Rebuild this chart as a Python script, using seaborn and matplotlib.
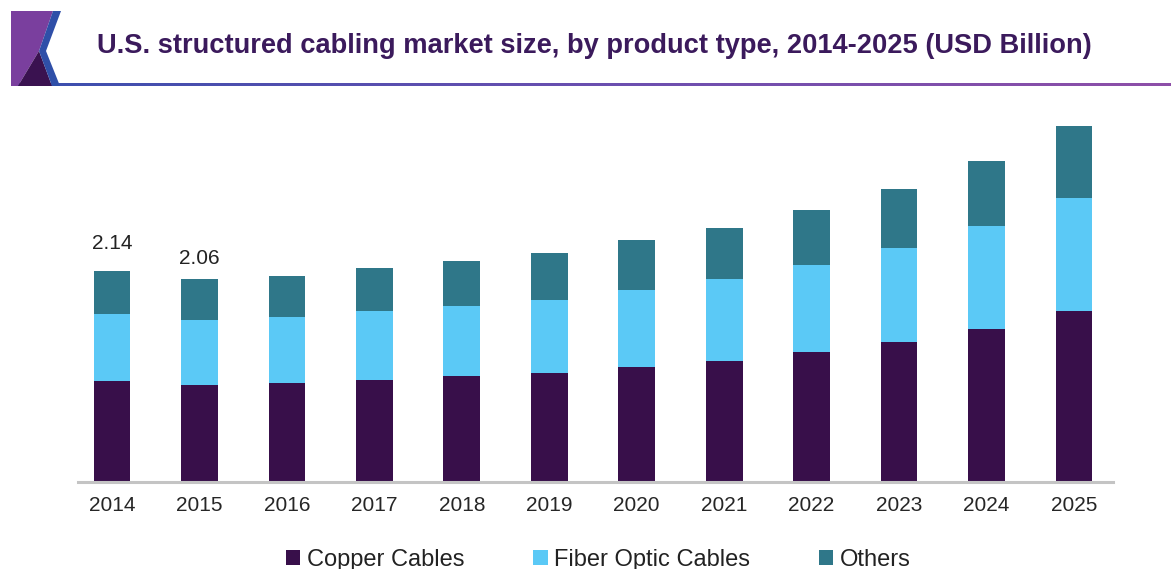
import numpy as np
import pandas as pd
import matplotlib
matplotlib.use("Agg")
import matplotlib.pyplot as plt
from matplotlib.patches import Polygon, Patch
import seaborn as sns

# ---------------- data ----------------
years = ["2014", "2015", "2016", "2017", "2018", "2019", "2020", "2021", "2022", "2023", "2024", "2025"]
copper = [1.02, 0.98, 1.00, 1.03, 1.08, 1.11, 1.17, 1.23, 1.32, 1.42, 1.55, 1.73]
fiber = [0.68, 0.66, 0.67, 0.70, 0.71, 0.74, 0.78, 0.83, 0.88, 0.95, 1.05, 1.15]
others = [0.44, 0.42, 0.42, 0.44, 0.45, 0.47, 0.50, 0.52, 0.56, 0.60, 0.66, 0.73]
series_names = ["Copper Cables", "Fiber Optic Cables", "Others"]
value_labels = {"2014": "2.14", "2015": "2.06"}
title = "U.S. structured cabling market size, by product type, 2014-2025 (USD Billion)"

colors = ["#380f4a", "#5bc9f6", "#2f7789"]

sns.set_theme(style="white")
plt.rcParams["font.family"] = ["Liberation Sans", "DejaVu Sans"]

W, H = 1171, 569
fig = plt.figure(figsize=(W / 100, H / 100), dpi=100)
fig.patch.set_facecolor("white")

# main axes geometry (pixel-based)
ax_left, ax_right, ax_top, ax_bot = 78, 1113, 110, 482
ax = fig.add_axes([ax_left / W, (H - ax_bot) / H, (ax_right - ax_left) / W, (ax_bot - ax_top) / H])

df = pd.DataFrame({"year": years, "copper": copper, "fiber": fiber, "others": others})
df["cf"] = df["copper"] + df["fiber"]
df["total"] = df["cf"] + df["others"]

for col, c in [("total", colors[2]), ("cf", colors[1]), ("copper", colors[0])]:
    sns.barplot(data=df, x="year", y=col, color=c, width=0.42, saturation=1,
                errorbar=None, ax=ax, linewidth=0)

px_per_unit = 98.6
ax.set_ylim(0, (ax_bot - ax_top) / px_per_unit)
spacing = 87.45
ax.set_xlim((ax_left - 112) / spacing, (ax_right - 112) / spacing)

label_offsets = {"2014": 0.275, "2015": 0.21}
for i, y in enumerate(years):
    if y in value_labels:
        ax.text(i, df["total"].iloc[i] + label_offsets[y], value_labels[y],
                ha="center", va="center", fontsize=15, color="#222222")

for s in ["top", "right", "left"]:
    ax.spines[s].set_visible(False)
ax.spines["bottom"].set_color("#c4c4c4")
ax.spines["bottom"].set_linewidth(2.2)
ax.set_yticks([])
ax.set_xlabel("")
ax.set_ylabel("")
ax.tick_params(axis="x", length=0, pad=10, labelsize=15, labelcolor="#262626")
ax.set_facecolor("none")

# legend
handles = [Patch(facecolor=c, edgecolor="none", label=n) for c, n in zip(colors, series_names)]
fig.legend(handles=handles, loc="center", bbox_to_anchor=(0.511, 0.0165), ncol=3,
           frameon=False, fontsize=17, handlelength=0.62, handleheight=0.62,
           handletextpad=0.28, columnspacing=2.9, labelcolor="#222222")

# header decoration
deco = fig.add_axes([0, 0, 1, 1], zorder=-1)
deco.set_xlim(0, W)
deco.set_ylim(H, 0)
deco.axis("off")

grad = np.linspace(0, 1, 256).reshape(1, -1)
cmap = matplotlib.colors.LinearSegmentedColormap.from_list("hdr", ["#3a4fae", "#6a4fb0", "#8e4fa8"])
deco.imshow(grad, extent=[11, W, 86, 83], aspect="auto", cmap=cmap)
deco.set_xlim(0, W)
deco.set_ylim(H, 0)

deco.add_patch(Polygon([(11, 11), (53, 11), (39, 51), (18, 86), (11, 86)], closed=True,
                       facecolor="#7a3f9e", edgecolor="none"))
deco.add_patch(Polygon([(39, 51), (18, 86), (52, 86)], closed=True,
                       facecolor="#3a1250", edgecolor="none"))
deco.add_patch(Polygon([(53, 11), (61, 11), (46, 51), (60, 86), (52, 86), (39, 51)], closed=True,
                       facecolor="#2f4fa8", edgecolor="none"))

fig.text(594.5 / W, 1 - 53 / H, title, ha="center", va="baseline",
         fontsize=19.6, fontweight="bold", color="#3b1a5c")

fig.savefig("out.png", dpi=100)
